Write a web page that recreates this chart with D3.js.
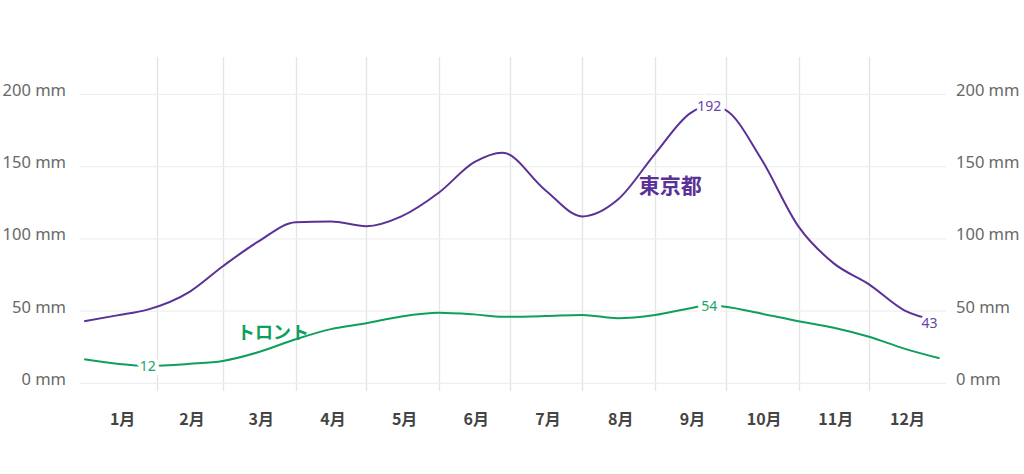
<!DOCTYPE html>
<html>
<head>
<meta charset="utf-8">
<script src="https://cdn.jsdelivr.net/npm/d3@7"></script>
<style>
  body { margin: 0; background: #fff; }
  svg { display: block; }
</style>
</head>
<body>
<div id="chart"></div>
<script>
// sample dates (2021, no leap year) and monthly rain values
const dates = ["01-01", "01-15", "01-28", "02-15", "03-01", "03-16", "04-01", "04-16",
    "05-01", "05-16", "06-01", "06-16", "06-28", "07-16", "08-01", "08-16",
    "09-01", "09-16", "09-24", "10-01", "10-16", "11-01", "11-16", "12-01", "12-16", "12-31"];
const tokyo = [43, 47, 51, 63.5, 81, 98, 111.5, 112, 108.7, 115.5, 132, 153, 159.6, 134,
    115.5, 127, 159, 187, 192, 189, 155.6, 108.4, 83, 68.5, 50.5, 43];
const toronto = [16.6, 13.5, 12, 13.5, 15.5, 21.5, 30.5, 37.5, 41.5, 46.3, 48.9, 47.7, 46,
    46.5, 47.3, 45, 47.3, 52, 54, 53, 48.3, 43, 38.5, 32.2, 24, 17.3];
const yTicks = [0, 50, 100, 150, 200];
const monthNames = ["1月", "2月", "3月", "4月", "5月", "6月", "7月", "8月", "9月", "10月", "11月", "12月"];
const seriesNames = ["東京都", "トロント"];
// where the series names sit (date, value)
const nameSpots = [["08-25", 138], ["03-07", 36]];
const nameSizes = ["21px", "18px"];
// which points get a value label: min, max, last
const labelIdx = [[18, 25], [2, 18]];

const width = 1024;
const height = 474;
const colors = ["#5a3196", "#0f9f5c"];
const labelColors = ["#6a43a8", "#17a865"];

const parseDay = d3.timeParse("%Y-%m-%d");
const day = s => parseDay("2021-" + s);

const svg = d3.select("#chart")
    .append("svg")
    .attr("width", width)
    .attr("height", height);

const x = d3.scaleTime()
    .domain([day("01-01"), parseDay("2022-01-01")])
    .range([84.2, 941.9]);

const y = d3.scaleLinear()
    .domain([0, 200])
    .range([383.3, 94.3]);

// vertical grid at month starts
const monthStarts = d3.timeMonth.range(day("02-01"), day("12-02"));
svg.append("g")
    .selectAll("line")
    .data(monthStarts)
    .enter().append("line")
    .attr("x1", d => Math.round(x(d)) + 0.5)
    .attr("x2", d => Math.round(x(d)) + 0.5)
    .attr("y1", 57)
    .attr("y2", 391)
    .attr("stroke", "#e4e4e4")
    .attr("stroke-width", 1.3);

// horizontal grid
svg.append("g")
    .selectAll("line")
    .data(yTicks)
    .enter().append("line")
    .attr("x1", 80)
    .attr("x2", 946)
    .attr("y1", d => y(d))
    .attr("y2", d => y(d))
    .attr("stroke", "#efefef")
    .attr("stroke-width", 1.3);

// y labels both sides
const yLabelStyle = sel => sel
    .attr("fill", "#686868")
    .style("font-family", "'Noto Sans', sans-serif")
    .style("font-size", "16.5px")
    .attr("dominant-baseline", "central")
    .text(d => d + " mm");

svg.append("g").selectAll("text")
    .data(yTicks)
    .enter().append("text")
    .attr("x", 66)
    .attr("y", d => y(d) - 5)
    .attr("text-anchor", "end")
    .call(yLabelStyle);

svg.append("g").selectAll("text")
    .data(yTicks)
    .enter().append("text")
    .attr("x", 956)
    .attr("y", d => y(d) - 5)
    .attr("text-anchor", "start")
    .call(yLabelStyle);

// month labels, centred in each month
const months = d3.timeMonth.range(day("01-01"), parseDay("2022-01-01"));
svg.append("g").selectAll("text")
    .data(months)
    .enter().append("text")
    .attr("x", d => (x(d) + x(d3.timeMonth.offset(d, 1))) / 2 + 2)
    .attr("y", 418)
    .attr("text-anchor", "middle")
    .attr("dominant-baseline", "central")
    .attr("fill", "#444")
    .style("font-family", "'Noto Sans CJK JP', sans-serif")
    .style("font-weight", "bold")
    .style("font-size", "16px")
    .text((d, i) => monthNames[i]);

const line = d3.line()
    .x(d => x(d[0]))
    .y(d => y(d[1]))
    .curve(d3.curveMonotoneX);

[tokyo, toronto].forEach(function(values, s) {
    const pts = dates.map((d, i) => [day(d), values[i]]);

    svg.append("path")
        .datum(pts)
        .attr("fill", "none")
        .attr("stroke", colors[s])
        .attr("stroke-width", 2)
        .attr("stroke-linejoin", "round")
        .attr("d", line);

    // value labels with a white halo that cuts the line
    svg.append("g").selectAll("text")
        .data(labelIdx[s])
        .enter().append("text")
        .attr("x", i => i == dates.length - 1 ? x(pts[i][0]) - 2 : x(pts[i][0]))
        .attr("y", i => y(pts[i][1]) + (i == dates.length - 1 ? 1 : 0))
        .attr("text-anchor", i => i == dates.length - 1 ? "end" : "middle")
        .attr("dominant-baseline", "central")
        .attr("fill", labelColors[s])
        .attr("stroke", "#fff")
        .attr("stroke-width", 8)
        .attr("paint-order", "stroke")
        .style("font-family", "'Noto Sans', sans-serif")
        .style("font-size", "14px")
        .text(i => pts[i][1]);

    svg.append("text")
        .attr("x", x(day(nameSpots[s][0])))
        .attr("y", y(nameSpots[s][1]))
        .attr("dominant-baseline", "central")
        .attr("fill", colors[s])
        .style("font-family", "'Noto Sans CJK JP', sans-serif")
        .style("font-weight", "bold")
        .style("font-size", nameSizes[s])
        .text(seriesNames[s]);
});
</script>
</body>
</html>
